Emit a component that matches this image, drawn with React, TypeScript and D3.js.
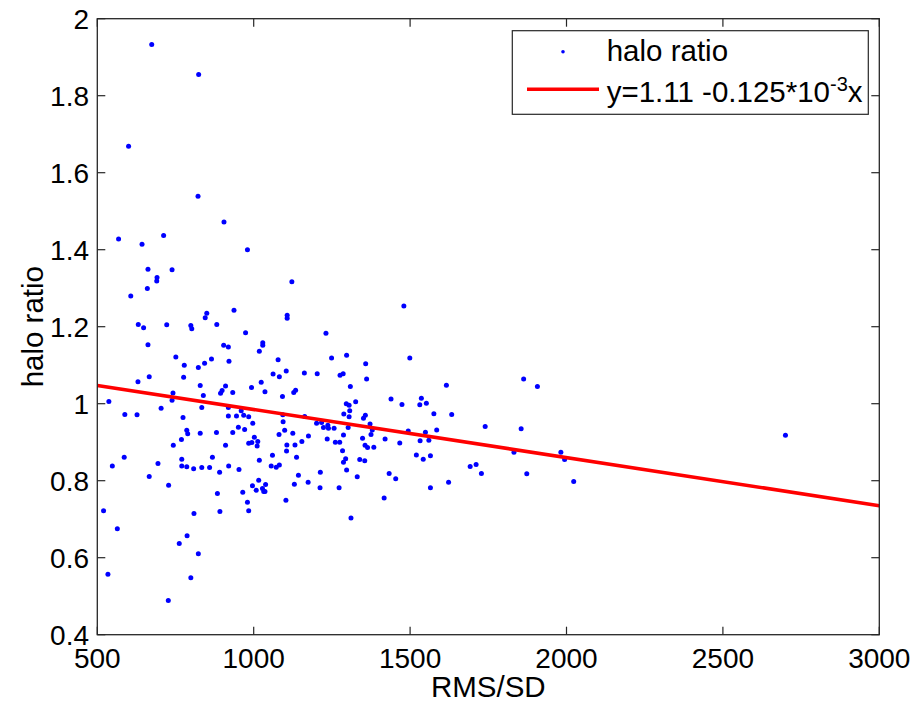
import React from 'react';
import * as d3 from 'd3';

// RMS/SD vs halo ratio
const rmsSd: number[] = [
  674, 824, 600, 822, 905, 568, 712, 643, 980, 662, 739, 691, 690, 660, 1122, 607, 937, 850, 845, 1107, 1107,
  1480,
  631, 648, 722, 799, 802, 882, 974, 662, 904, 919,
  751, 778, 823, 843, 865, 921, 630, 666, 776, 829,
  839, 894, 899, 910, 933, 742, 739, 537, 704, 834,
  919, 588, 627, 774, 919, 945, 960, 968, 984, 951,
  971, 786, 789, 829, 881, 933, 769, 743, 910, 984,
  586, 548, 694, 770, 770, 786, 808, 834, 859, 868,
  891, 920, 953, 666, 728,
  1231, 1029, 1029, 1018, 1078, 1249, 1297, 1358, 1499,
  1062, 1082, 1104, 1162, 1203, 1276, 1286, 1361,
  1024, 993, 1036, 1128, 1134, 1092, 1309, 1439, 1474,
  1296, 1305, 1326, 1307, 1288, 1305, 1351, 1357, 1163, 1093,
  997, 1094, 1201, 1217, 1223, 1237, 1239, 1257, 1302, 1372, 1379, 1375, 1494,
  1099, 1125, 1081, 1175, 1154, 1002, 1013, 994, 1011, 1106, 1132,
  1235, 1261, 1275, 1287, 1348, 1356, 1364, 1384, 1420, 1467,
  1105, 1284, 1137, 1060, 1018, 1056, 1072, 1082, 1294, 1287, 1297, 1339, 1355,
  1213, 1143, 1331, 1433, 1454,
  1016, 996, 1028, 1038, 1130, 1174, 1212, 1273,
  1616, 1863, 1907, 1536, 1531, 1552, 1576, 1633, 1740, 1855, 1585, 1549, 1532, 1560,
  1832, 1982, 1994, 1520, 1565, 1542, 1692, 1711, 1728, 1873, 1623, 1565, 2023,
  884, 965, 1008, 1032, 1036, 980, 984, 1103, 520, 564, 809, 892, 787, 762, 823, 534, 799, 727,
  1311, 1417,
  2700,
];

const haloRatio: number[] = [
  1.933, 1.855, 1.669, 1.539, 1.472, 1.428, 1.437, 1.414, 1.4, 1.349, 1.348, 1.328, 1.319, 1.299, 1.317, 1.28, 1.243, 1.235, 1.223, 1.23, 1.222,
  1.254,
  1.206, 1.197, 1.205, 1.203, 1.195, 1.206, 1.184, 1.153, 1.152, 1.147,
  1.121, 1.1, 1.094, 1.105, 1.116, 1.11, 1.057, 1.07, 1.069, 1.047,
  1.021, 1.027, 1.034, 1.046, 1.029, 1.028, 1.009, 1.006, 0.988, 0.99,
  0.99, 0.972, 0.971, 0.964, 0.968, 0.968, 0.982, 0.97, 0.966, 0.939,
  0.933, 0.931, 0.922, 0.923, 0.925, 0.925, 0.907, 0.892, 0.892, 0.897,
  0.861, 0.838, 0.845, 0.856, 0.838, 0.836, 0.831, 0.834, 0.834, 0.861,
  0.822, 0.838, 0.829, 0.811, 0.788,
  1.183, 1.158, 1.152, 1.136, 1.114, 1.119, 1.126, 1.104, 1.119,
  1.077, 1.07, 1.085, 1.08, 1.078, 1.074, 1.078, 1.064,
  1.056, 1.042, 1.031, 1.029, 1.035, 1.019, 1.045, 1.012, 0.998,
  1.0, 0.996, 1.005, 0.982, 0.973, 0.966, 0.962, 0.97, 0.967, 0.971,
  0.949, 0.953, 0.949, 0.951, 0.938, 0.944, 0.936, 0.936, 0.938, 0.947, 0.932, 0.92, 0.929,
  0.931, 0.923, 0.92, 0.916, 0.902, 0.913, 0.902, 0.899, 0.89, 0.893, 0.893,
  0.908, 0.9, 0.9, 0.919, 0.91, 0.892, 0.886, 0.887, 0.908, 0.898,
  0.877, 0.878, 0.861, 0.866, 0.853, 0.838, 0.835, 0.841, 0.857, 0.848, 0.828, 0.855, 0.852,
  0.822, 0.814, 0.81, 0.819, 0.805,
  0.801, 0.787, 0.78, 0.79, 0.791, 0.796, 0.782, 0.782,
  1.048, 1.064, 1.045, 1.014, 0.997, 1.001, 0.974, 0.972, 0.941, 0.935, 0.932, 0.926, 0.904, 0.905,
  0.874, 0.874, 0.855, 0.867, 0.865, 0.856, 0.837, 0.842, 0.819, 0.818, 0.796, 0.782, 0.798,
  0.767, 0.77, 0.775, 0.772, 0.772, 0.744, 0.722, 0.749, 0.722, 0.675, 0.715, 0.72, 0.657, 0.637, 0.61, 0.557, 0.548, 0.489,
  0.703, 0.755,
  0.918,
];

// fitted line y = 1.11 - 0.125e-3 x
const fitIntercept = 1.11;
const fitSlope = -0.125e-3;

const xTicks = [500, 1000, 1500, 2000, 2500, 3000];
const yTicks = [0.4, 0.6, 0.8, 1.0, 1.2, 1.4, 1.6, 1.8, 2.0];
const yTickLabels = ['0.4', '0.6', '0.8', '1', '1.2', '1.4', '1.6', '1.8', '2'];

const W = 914;
const H = 705;
const left = 97.3, right = 879.3, top = 18.7, bottom = 634.7;
const FONT = '"Liberation Sans", Arial, Helvetica, sans-serif';
const FS = 28;
const FS_LABEL = 29.5;
const axisColor = '#262626';
const tickLen = 8;

export default function App() {
  const x = d3.scaleLinear().domain([500, 3000]).range([left, right]);
  const y = d3.scaleLinear().domain([0.4, 2]).range([bottom, top]);

  const fitLine = d3.line<number>()
    .x(d => x(d))
    .y(d => y(fitIntercept + fitSlope * d));

  const points = rmsSd.map((v, i) => [v, haloRatio[i]] as [number, number]);

  return (
    <svg width={W} height={H} style={{ position: 'absolute', left: 0, top: 0, background: '#fff' }}
      fontFamily={FONT}>
      <rect x={0} y={0} width={W} height={H} fill="#fff" />

      {/* data */}
      <g>
        {points.map(([a, b], i) => (
          <circle key={i} cx={x(a)} cy={y(b)} r={2.5} fill="#0000ff" />
        ))}
      </g>
      <path d={fitLine(x.domain()) || ''} fill="none" stroke="#ff0000" strokeWidth={3.6} />

      {/* axes box */}
      <rect x={left} y={top} width={right - left} height={bottom - top} fill="none"
        stroke={axisColor} strokeWidth={1.3} />

      {xTicks.map(t => (
        <g key={'x' + t}>
          <line x1={x(t)} x2={x(t)} y1={bottom} y2={bottom - tickLen} stroke={axisColor} strokeWidth={1.2} />
          <line x1={x(t)} x2={x(t)} y1={top} y2={top + tickLen} stroke={axisColor} strokeWidth={1.2} />
          <text x={x(t)} y={668} textAnchor="middle" fontSize={FS} fill="#000">{t}</text>
        </g>
      ))}
      {yTicks.map((t, i) => (
        <g key={'y' + t}>
          <line x1={left} x2={left + tickLen} y1={y(t)} y2={y(t)} stroke={axisColor} strokeWidth={1.2} />
          <line x1={right} x2={right - tickLen} y1={y(t)} y2={y(t)} stroke={axisColor} strokeWidth={1.2} />
          <text x={89} y={y(t) + 10} textAnchor="end" fontSize={FS} fill="#000">{yTickLabels[i]}</text>
        </g>
      ))}

      <text x={(left + right) / 2} y={697} textAnchor="middle" fontSize={FS_LABEL} fill="#000">RMS/SD</text>
      <text transform={`translate(43,${(top + bottom) / 2}) rotate(-90)`} textAnchor="middle"
        fontSize={FS_LABEL} fill="#000">halo ratio</text>

      {/* legend */}
      <g>
        <rect x={512.3} y={30.7} width={356} height={83.6} fill="#fff" stroke={axisColor} strokeWidth={1.2} />
        <circle cx={563} cy={51.7} r={1.8} fill="#0000ff" />
        <text x={606.7} y={61} fontSize={FS_LABEL} fill="#000">halo ratio</text>
        <line x1={527} x2={599} y1={89.3} y2={89.3} stroke="#ff0000" strokeWidth={3.6} />
        <text x={606.7} y={102.3} fontSize={FS_LABEL} fill="#000">
          y=1.11 -0.125*10<tspan dy={-11} fontSize={20}>-3</tspan><tspan dy={11}>x</tspan>
        </text>
      </g>
    </svg>
  );
}
